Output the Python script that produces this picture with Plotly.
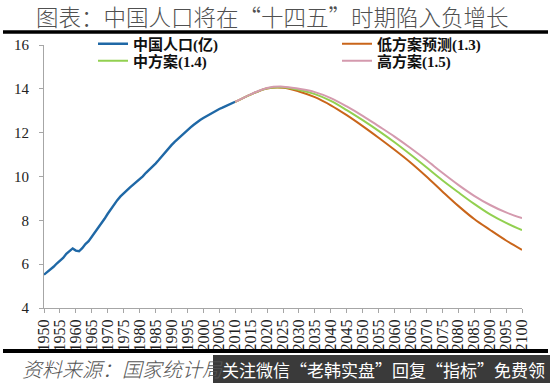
import plotly.graph_objects as go

hist_years = list(range(1950, 2011))
hist_pop = [5.52, 5.63, 5.75, 5.88, 6.03, 6.15, 6.28, 6.47, 6.60, 6.72,
            6.62, 6.59, 6.73, 6.92, 7.05, 7.25, 7.45, 7.64, 7.85, 8.07,
            8.30, 8.52, 8.72, 8.92, 9.09, 9.24, 9.37, 9.50, 9.63, 9.75,
            9.87, 10.01, 10.17, 10.30, 10.44, 10.59, 10.75, 10.93, 11.10, 11.27,
            11.43, 11.58, 11.72, 11.85, 11.99, 12.11, 12.24, 12.36, 12.48, 12.58,
            12.67, 12.76, 12.85, 12.92, 13.00, 13.08, 13.14, 13.21, 13.28, 13.35,
            13.41]

proj_years = list(range(2010, 2101, 5))
low_pop = [13.40, 13.75, 14.02, 14.05, 13.88, 13.62, 13.25, 12.80, 12.30, 11.77,
           11.22, 10.64, 10.00, 9.32, 8.66, 8.06, 7.56, 7.08, 6.65]
mid_pop = [13.40, 13.75, 14.03, 14.07, 13.95, 13.76, 13.45, 13.03, 12.57, 12.08,
           11.56, 11.00, 10.42, 9.83, 9.28, 8.75, 8.27, 7.88, 7.55]
high_pop = [13.40, 13.76, 14.04, 14.10, 14.00, 13.85, 13.58, 13.20, 12.77, 12.30,
            11.82, 11.30, 10.75, 10.17, 9.62, 9.12, 8.70, 8.36, 8.10]

x_ticks = list(range(1950, 2101, 5))
y_ticks = [4, 6, 8, 10, 12, 14, 16]

title_text = "图表：中国人口将在“十四五”时期陷入负增长"
source_text = "资料来源：国家统计局"
watermark_text = "关注微信“老韩实盘”回复“指标”免费领"

names = ["中国人口(亿)", "低方案预测(1.3)", "中方案(1.4)", "高方案(1.5)"]
colors = ["#1F68A6", "#C9651A", "#92D050", "#D49AAE"]

W, H = 550, 383
L, R, T, B = 44, 28, 45, 75
PW, PH = W - L - R, H - T - B


def px(x):
    return (x - L) / PW


def py(y):
    return (H - B - y) / PH


fig = go.Figure()
fig.add_trace(go.Scatter(x=hist_years, y=hist_pop, mode="lines", name=names[0],
                         line=dict(color=colors[0], width=2.4), legend="legend"))
fig.add_trace(go.Scatter(x=proj_years, y=low_pop, mode="lines", name=names[1],
                         line=dict(color=colors[1], width=2, shape="spline"), legend="legend2"))
fig.add_trace(go.Scatter(x=proj_years, y=mid_pop, mode="lines", name=names[2],
                         line=dict(color=colors[2], width=2, shape="spline"), legend="legend3"))
fig.add_trace(go.Scatter(x=proj_years, y=high_pop, mode="lines", name=names[3],
                         line=dict(color=colors[3], width=2, shape="spline"), legend="legend4"))

serif = "Liberation Serif, Times New Roman, serif"
cjk = "Noto Sans CJK SC"
leg_font = dict(family=serif + ", " + cjk, size=15, color="#111", weight="bold")


def leg(xp, yp):
    return dict(x=px(xp), y=py(yp), xanchor="left", yanchor="middle",
                font=leg_font, bgcolor="rgba(0,0,0,0)", itemwidth=30)


fig.update_layout(
    width=W, height=H,
    margin=dict(l=L, r=R, t=T, b=B),
    paper_bgcolor="white", plot_bgcolor="white",
    showlegend=True,
    legend=leg(93, 44),
    legend2=leg(337, 44),
    legend3=leg(93, 61),
    legend4=leg(337, 61),
    xaxis=dict(range=[1950, 2100], tickmode="array", tickvals=x_ticks,
               ticktext=[str(v) for v in x_ticks], tickangle=-90,
               showgrid=False, zeroline=False, showline=True, linecolor="#A6A6A6",
               linewidth=1, ticks="outside", ticklen=4, tickcolor="#A6A6A6",
               tickfont=dict(family=serif, size=16, color="#222")),
    yaxis=dict(range=[4, 16], tickmode="array", tickvals=y_ticks,
               showgrid=False, zeroline=False, showline=True, linecolor="#A6A6A6",
               linewidth=1, ticks="outside", ticklen=4, tickcolor="#A6A6A6",
               ticklabelstandoff=7,
               tickfont=dict(family=serif, size=15, color="#222")),
)

fig.add_annotation(text=title_text, xref="paper", yref="paper", x=px(272), xanchor="center",
                   y=py(16.5), yanchor="middle", showarrow=False,
                   font=dict(family=cjk, size=22.5, color="#505050", weight=300))
# horizontal rules
fig.add_shape(type="line", xref="paper", yref="paper",
              x0=px(3), x1=px(548), y0=py(32), y1=py(32),
              line=dict(color="black", width=3.5))
fig.add_shape(type="line", xref="paper", yref="paper",
              x0=px(3), x1=px(548), y0=py(351), y1=py(351),
              line=dict(color="black", width=4))
fig.add_annotation(text="<i>" + source_text + "</i>", xref="paper", yref="paper",
                   x=px(20), xanchor="left", y=py(368), yanchor="middle",
                   showarrow=False, font=dict(family=cjk, size=20, color="#555555", weight=300))
fig.add_shape(type="rect", xref="paper", yref="paper",
              x0=px(213), x1=px(551), y0=py(384), y1=py(355),
              fillcolor="#3A3A3A", line=dict(width=0), layer="above")
fig.add_annotation(text=watermark_text, xref="paper", yref="paper",
                   x=px(383), xanchor="center", y=py(369), yanchor="middle",
                   showarrow=False, font=dict(family=cjk, size=17, color="white"))

fig.write_html("out.html", config={"displayModeBar": False},
               post_script="document.body.style.margin='0';")
